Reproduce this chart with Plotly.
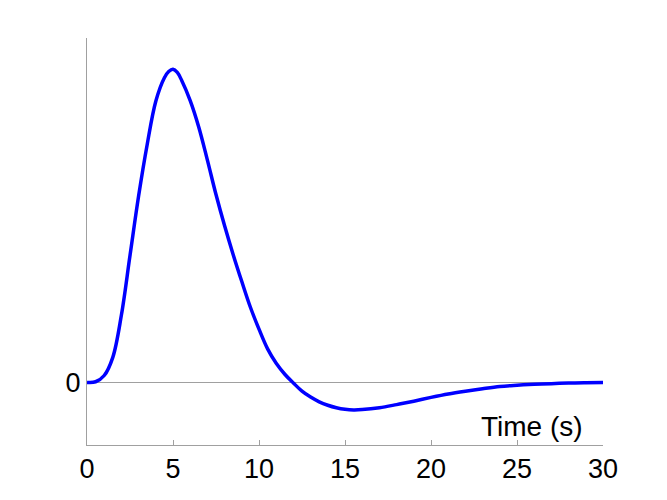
import plotly.graph_objects as go

time_s = [0, 0.5, 1, 1.5, 2, 2.5, 3, 3.5, 4, 4.5, 4.75, 5, 5.25, 5.5, 6, 6.5, 7, 7.5, 8, 8.5, 9, 9.5,
          10, 10.5, 11, 11.5, 12, 12.5, 13, 13.5, 14, 14.5, 15, 15.5, 16, 17, 18, 19,
          20, 21, 22, 23, 24, 25, 26, 27, 28, 29, 30]
response = [0.0, 0.002, 0.022, 0.08, 0.215, 0.405, 0.595, 0.76, 0.898, 0.973, 0.993, 1.0, 0.99, 0.965, 0.9,
            0.815, 0.71, 0.60, 0.50, 0.408, 0.322, 0.24, 0.17, 0.107, 0.061, 0.026, -0.002,
            -0.028, -0.047, -0.062, -0.073, -0.081, -0.086, -0.088, -0.087, -0.081, -0.071,
            -0.06, -0.048, -0.037, -0.028, -0.02, -0.013, -0.009, -0.006, -0.004, -0.002,
            -0.001, -0.0005]
x_ticks = [0, 5, 10, 15, 20, 25, 30]
y_ticks = [0]
x_label = "Time (s)"

fig = go.Figure()
fig.add_trace(go.Scatter(x=time_s, y=response, mode="lines",
                         line=dict(color="#0000ff", width=3.5, shape="spline", smoothing=1.0),
                         hoverinfo="skip", showlegend=False))

fig.add_annotation(x=28.95, y=-0.141, xref="x", yref="y", text=x_label, showarrow=False,
                   xanchor="right", yanchor="middle",
                   font=dict(family="Arial, Liberation Sans", size=28, color="black"))

fig.update_layout(
    width=667, height=500,
    margin=dict(l=79, r=72, t=30, b=63),
    plot_bgcolor="white", paper_bgcolor="white",
    font=dict(family="Arial, Liberation Sans", size=27, color="black"),
    xaxis=dict(range=[0, 30], tickvals=x_ticks, showgrid=False, zeroline=False,
               showline=True, linecolor="#a0a0a0", linewidth=1,
               ticks="inside", ticklen=5, tickcolor="#a0a0a0", tickwidth=1,
               tickfont=dict(size=27, color="black")),
    yaxis=dict(range=[-0.2, 1.1], tickvals=y_ticks, showgrid=False,
               zeroline=True, zerolinecolor="#a0a0a0", zerolinewidth=1,
               showline=True, linecolor="#a0a0a0", linewidth=1,
               ticks="", tickfont=dict(size=27, color="black")),
)

fig.write_html("out.html")
